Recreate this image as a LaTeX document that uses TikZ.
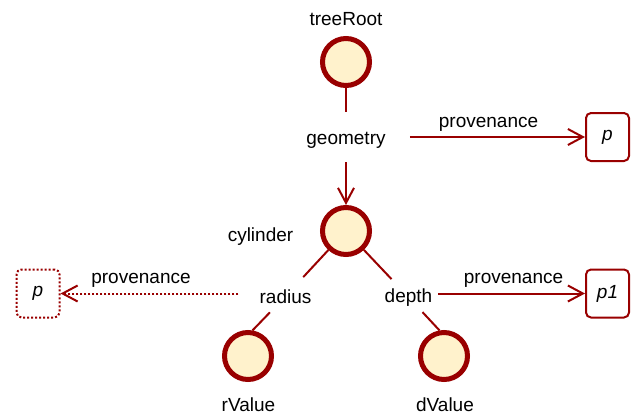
\documentclass[tikz,border=0pt]{standalone}
\usepackage{fontspec}
\setmainfont{Liberation Sans}
\usetikzlibrary{arrows.meta}
\definecolor{dred}{RGB}{153,0,0}
\definecolor{cream}{RGB}{255,242,204}
\begin{document}
\begin{tikzpicture}[x=1pt,y=-1pt,
  font=\fontsize{19}{22}\selectfont,
  state/.style={circle, draw=dred, line width=5pt, fill=cream, minimum size=47pt, inner sep=0pt},
  lbl/.style={anchor=base, inner sep=0pt},
  edge/.style={draw=dred, line width=2pt},
  arr/.style={edge, -{Straight Barb[length=15pt,width=16pt]}},
  pbox/.style={draw=dred, line width=2pt, rounded corners=5pt, minimum width=43pt, minimum height=48pt, font=\fontsize{19}{22}\selectfont\itshape},
  dots/.style={dash pattern=on 2pt off 2pt}]
\useasboundingbox (0,0) rectangle (631,415);
\node[lbl] (treeRootLabel) at (346,25) {treeRoot};
\node[state] (treeRoot) at (346,62) {};
\node[lbl, inner xsep=24pt, inner ysep=14pt] (geometry) at (346,144) {geometry};
\node[state] (cylinder) at (346,231) {};
\node[lbl] (cylinderLabel) at (260.5,241) {cylinder};
\node[lbl, inner xsep=21pt, inner ysep=9pt] (radius) at (285.5,303) {radius};
\node[lbl, inner xsep=6pt, inner ysep=6pt] (depth) at (408.5,302) {depth};
\node[state] (rValue) at (248,356) {};
\node[state] (dValue) at (444,356) {};
\node[lbl] (rValueLabel) at (248.5,411.5) {rValue};
\node[lbl] (dValueLabel) at (445,411.5) {dValue};
\node[pbox] (pTop) at (607.5,137) {p};
\node[pbox] (p1) at (607.5,293.5) {p1};
\node[pbox, dots] (pLeft) at (38,293.5) {p};
\node[lbl] (provTop) at (488.5,127) {provenance};
\node[lbl] (provMid) at (513.5,283) {provenance};
\node[lbl] (provLeft) at (141,283) {provenance};
\draw[edge, shorten >=6pt] (treeRoot) -- (geometry);
\draw[arr] (geometry) -- (cylinder);
\draw[arr] (geometry.east |- pTop.west) -- (pTop.west);
\draw[edge, shorten >=4pt] (cylinder) -- (radius);
\draw[edge] (radius) -- (rValue.80);
\draw[edge, shorten >=4pt] (cylinder) -- (depth);
\draw[edge] (depth) -- (dValue.100);
\draw[arr, dots] (radius.west |- pLeft.east) -- (pLeft.east);
\draw[arr] (depth.east |- p1.west) -- (p1.west);
\end{tikzpicture}
\end{document}
